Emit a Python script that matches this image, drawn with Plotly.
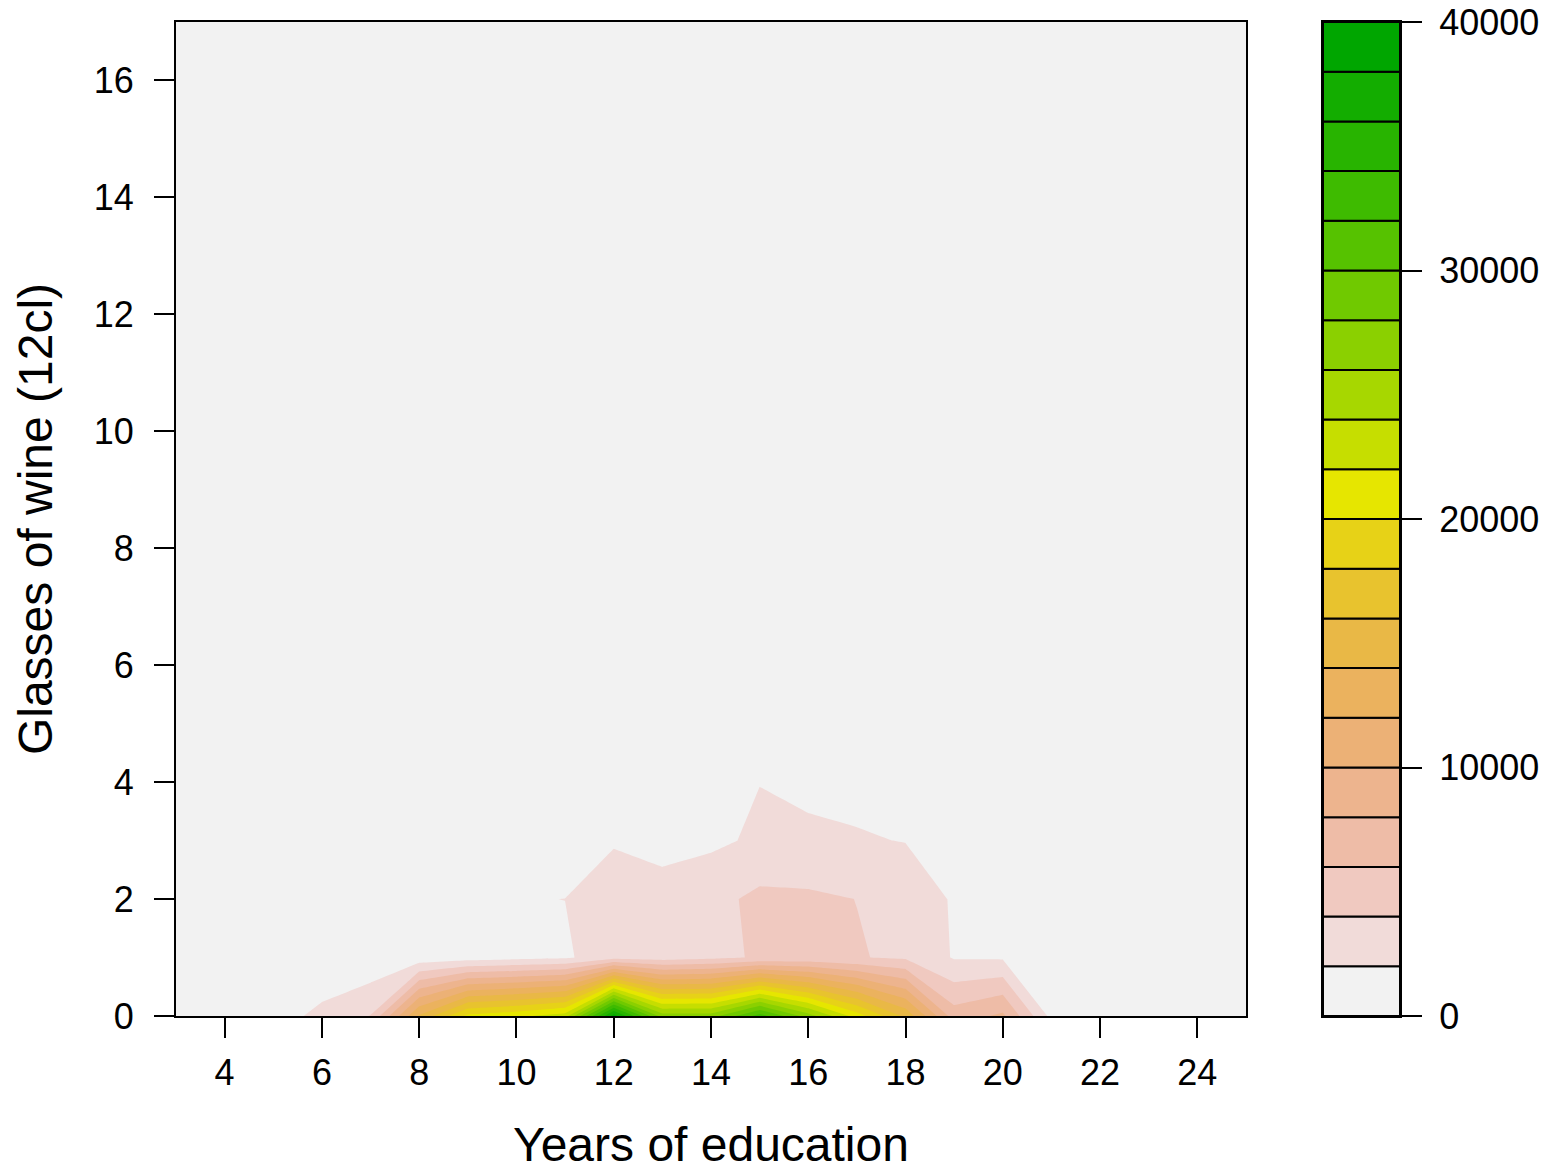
import colorsys
import plotly.graph_objects as go

# Grid axes: years of education (columns) and glasses of wine (rows)
years = [3, 4, 5, 6, 7, 8, 9, 10, 11, 12, 13, 14, 15, 16, 17, 18, 19, 20, 21, 22, 23, 24, 25]
glasses = [0, 1, 2, 3, 4, 5, 6, 7, 8, 9, 10, 11, 12, 13, 14, 15, 16, 17]

# Number of respondents per (glasses, years) cell, one list per glasses value
wine_0 = [0, 300, 1000, 2600, 4060, 14240, 20500, 21500, 23000, 39000, 27000, 27000, 33000, 27000, 21000, 15500, 6950, 8400, 1400, 400, 100, 0, 0]
wine_1 = [0, 0, 50, 100, 450, 790, 1100, 1400, 1700, 3200, 3000, 3500, 4214, 4500, 4113, 3700, 1850, 1790, 300, 100, 0, 0, 0]
wine_2 = [0, 0, 10, 80, 200, 500, 1200, 1940, 2010, 2800, 2600, 3365, 4479, 4300, 3980, 3500, 1756, 1200, 250, 60, 0, 0, 0]
wine_3 = [0, 0, 0, 50, 120, 250, 500, 750, 1000, 1870, 1509, 1637, 2300, 2535, 2170, 1937, 1100, 600, 150, 30, 0, 0, 0]
wine_4 = [0, 0, 0, 30, 80, 150, 300, 450, 600, 1000, 900, 1200, 1974, 1397, 1431, 1100, 500, 250, 80, 0, 0, 0, 0]
wine_5 = [0, 0, 0, 20, 50, 100, 200, 300, 400, 600, 500, 700, 1200, 900, 800, 600, 300, 150, 50, 0, 0, 0, 0]
wine_6 = [0, 0, 0, 10, 30, 60, 120, 200, 300, 450, 350, 500, 800, 650, 600, 450, 200, 100, 30, 0, 0, 0, 0]
wine_7 = [0, 0, 0, 5, 10, 30, 60, 100, 150, 250, 200, 300, 450, 350, 300, 250, 100, 50, 10, 0, 0, 0, 0]
wine_8 = [0, 0, 0, 0, 10, 20, 40, 80, 100, 200, 150, 200, 350, 300, 250, 200, 80, 40, 10, 0, 0, 0, 0]
wine_9 = [0, 0, 0, 0, 0, 10, 20, 30, 50, 80, 60, 90, 150, 120, 100, 80, 30, 10, 0, 0, 0, 0, 0]
wine_10 = [0, 0, 0, 0, 5, 10, 20, 40, 50, 100, 80, 100, 150, 130, 110, 90, 40, 20, 5, 0, 0, 0, 0]
wine_11 = [0, 0, 0, 0, 0, 5, 10, 15, 20, 30, 25, 30, 50, 40, 35, 30, 10, 5, 0, 0, 0, 0, 0]
wine_12 = [0, 0, 0, 0, 0, 5, 10, 20, 25, 40, 30, 40, 60, 50, 45, 35, 15, 5, 0, 0, 0, 0, 0]
wine_13 = [0, 0, 0, 0, 0, 0, 5, 5, 10, 15, 10, 15, 20, 15, 15, 10, 5, 0, 0, 0, 0, 0, 0]
wine_14 = [0, 0, 0, 0, 0, 0, 5, 10, 10, 20, 15, 20, 25, 20, 20, 15, 5, 0, 0, 0, 0, 0, 0]
wine_15 = [0, 0, 0, 0, 0, 0, 0, 5, 5, 10, 5, 10, 10, 10, 5, 5, 0, 0, 0, 0, 0, 0, 0]
wine_16 = [0, 0, 0, 0, 0, 0, 0, 5, 5, 10, 5, 5, 10, 10, 5, 5, 0, 0, 0, 0, 0, 0, 0]
wine_17 = [0, 0, 0, 0, 0, 0, 0, 0, 5, 5, 5, 5, 5, 5, 0, 0, 0, 0, 0, 0, 0, 0, 0]

counts = [wine_0, wine_1, wine_2, wine_3, wine_4, wine_5, wine_6, wine_7, wine_8,
          wine_9, wine_10, wine_11, wine_12, wine_13, wine_14, wine_15, wine_16, wine_17]

# Contour levels and key ticks
levels = [0, 2000, 4000, 6000, 8000, 10000, 12000, 14000, 16000, 18000, 20000,
          22000, 24000, 26000, 28000, 30000, 32000, 34000, 36000, 38000, 40000]
key_ticks = [0, 10000, 20000, 30000, 40000]
x_ticks = [4, 6, 8, 10, 12, 14, 16, 18, 20, 22, 24]
y_ticks = [0, 2, 4, 6, 8, 10, 12, 14, 16]


def terrain_colors(n):
    """Terrain palette: green -> yellow -> pale grey, n colours."""
    k = n // 2
    out = []
    for i in range(k):
        t = i / (k - 1)
        out.append((4 / 12 + (2 / 12 - 4 / 12) * t, 1.0, 0.65 + 0.25 * t))
    m = n - k + 1
    for j in range(1, m):
        t = j / (m - 1)
        out.append((2 / 12 * (1 - t), 1.0 - t, 0.9 + 0.05 * t))
    hexes = []
    for h, s, v in out:
        r, g, b = colorsys.hsv_to_rgb(h, s, v)
        hexes.append("#%02X%02X%02X" % (int(r * 255 + 0.5), int(g * 255 + 0.5), int(b * 255 + 0.5)))
    return hexes


n_bands = len(levels) - 1
palette = terrain_colors(n_bands)[::-1]  # pale grey for the lowest band

# Colour k is the fill of the band [levels[k], levels[k+1]]
first_level = levels[1]
last_level = levels[-2]
colorscale = [[k / (n_bands - 1), palette[k]] for k in range(n_bands)]

FONT = "Liberation Sans, Arial, Helvetica, sans-serif"
W, H = 1551, 1171
plot_l, plot_r, plot_t, plot_b = 176, 1246, 22, 1016
key_l, key_r = 1323, 1400

fig = go.Figure()

fig.add_trace(go.Contour(
    x=years, y=glasses, z=counts,
    autocontour=False,
    contours=dict(start=first_level, end=last_level, size=levels[1] - levels[0],
                  coloring="fill", showlines=False),
    line=dict(width=0, smoothing=0),
    colorscale=colorscale,
    showscale=False,
    hoverinfo="skip",
))

# Colour key drawn as stacked boxes, one per band
fig.add_trace(go.Bar(
    x=[0] * n_bands,
    y=[levels[i + 1] - levels[i] for i in range(n_bands)],
    base=levels[:-1],
    width=1,
    marker=dict(color=palette, line=dict(color="black", width=2)),
    xaxis="x2", yaxis="y2",
    showlegend=False,
    hoverinfo="skip",
))

y_dom = [1 - plot_b / H, 1 - plot_t / H]
axis_common = dict(showline=True, mirror=True, linecolor="black", linewidth=2,
                   ticks="outside", ticklen=20, tickwidth=2, tickcolor="black",
                   showgrid=False, zeroline=False, automargin=False,
                   tickfont=dict(family=FONT, size=36, color="black"))
title_font = dict(family=FONT, size=48, color="black")

fig.update_layout(
    width=W, height=H,
    margin=dict(l=0, r=0, t=0, b=0, autoexpand=False),
    paper_bgcolor="white", plot_bgcolor="white",
    barmode="overlay",
    showlegend=False,
    xaxis=dict(domain=[plot_l / W, plot_r / W], range=[3, 25], tickvals=x_ticks,
               anchor="y", ticklabelstandoff=4,
               title=dict(text="Years of education", font=title_font, standoff=35),
               **axis_common),
    yaxis=dict(domain=y_dom, range=[0, 17], tickvals=y_ticks, anchor="x",
               ticklabelstandoff=13,
               title=dict(text="Glasses of wine (12cl)", font=title_font, standoff=26),
               **axis_common),
    xaxis2=dict(domain=[key_l / W, key_r / W], range=[-0.5, 0.5], anchor="y2",
                showline=True, mirror=True, linecolor="black", linewidth=2,
                showticklabels=False, ticks="", showgrid=False, zeroline=False,
                automargin=False),
    yaxis2=dict(domain=y_dom, range=[levels[0], levels[-1]], tickvals=key_ticks,
                tickformat="d", side="right", anchor="x2", ticklabelstandoff=10,
                **axis_common),
)

fig.write_html("out.html")
